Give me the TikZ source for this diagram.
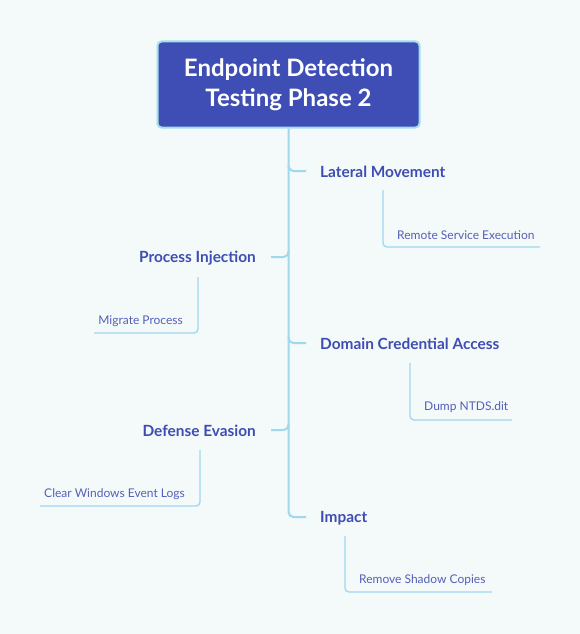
\documentclass[tikz,border=0pt]{standalone}
\usepackage{fontspec}
\setmainfont{Lato}
\usetikzlibrary{calc}
\definecolor{bg}{HTML}{F4F9F9}
\definecolor{rootfill}{HTML}{3E4EB5}
\definecolor{rootborder}{HTML}{A5DCF0}
\definecolor{linecol}{HTML}{A0D8EF}
\definecolor{branchtext}{HTML}{3E4DB3}
\definecolor{subtext}{HTML}{5460B9}
\tikzset{
  rootbox/.style={draw=rootborder, line width=2pt, fill=rootfill, rounded corners=4pt,
    minimum width=262pt, minimum height=86pt, text=white, align=center,
    font=\fontsize{24}{30}\selectfont\bfseries, inner sep=0pt},
  branchnode/.style={text=branchtext, font=\fontsize{15.4}{18}\selectfont\bfseries, inner sep=0pt},
  subnode/.style={text=subtext, font=\fontsize{12}{14}\selectfont, inner sep=0pt},
  trunkline/.style={draw=linecol, line width=2pt, rounded corners=5pt},
  subline/.style={draw=linecol, line width=1.4pt, rounded corners=4pt},
}
\begin{document}
\begin{tikzpicture}[x=1pt,y=-1pt]
\useasboundingbox[fill=bg] (0,0) rectangle (580,634);
\node[rootbox] (root) at (288.5,84.5) {Endpoint Detection\\Testing Phase 2};
% branches
\node[branchnode, anchor=west] (lat) at (320,172) {Lateral Movement};
\node[branchnode, anchor=east] (proc) at (256,258) {Process Injection};
\node[branchnode, anchor=west] (dom) at (320,344) {Domain Credential Access};
\node[branchnode, anchor=east] (def) at (256,431) {Defense Evasion};
\node[branchnode, anchor=west] (imp) at (320,518) {Impact};
% sub nodes
\node[subnode, anchor=west] (rse) at (397,235.5) {Remote Service Execution};
\node[subnode, anchor=east] (mig) at (183,321.5) {Migrate Process};
\node[subnode, anchor=west] (ntds) at (424,407.5) {Dump NTDS.dit};
\node[subnode, anchor=east] (clr) at (185,494.5) {Clear Windows Event Logs};
\node[subnode, anchor=west] (rsc) at (359,580.5) {Remove Shadow Copies};
% trunk
\draw[trunkline] (root.south) |- ($(imp.west)+(-14,-1)$);
\draw[trunkline] ($(root.south |- lat.west)+(0,-7)$) |- ($(lat.west)+(-14,-1)$);
\draw[trunkline] ($(root.south |- dom.west)+(0,-7)$) |- ($(dom.west)+(-14,-1)$);
\draw[trunkline] ($(root.south |- proc.east)+(0,-7)$) |- ($(proc.east)+(15,-1)$);
\draw[trunkline] ($(root.south |- def.east)+(0,-7)$) |- ($(def.east)+(15,-1)$);
% sub connectors
\coordinate (latS) at (383,190); \coordinate (latE) at (540,247);
\coordinate (procS) at (198,277); \coordinate (procE) at (94,333);
\coordinate (domS) at (410,363); \coordinate (domE) at (512,420);
\coordinate (defS) at (200,450); \coordinate (defE) at (40,506);
\coordinate (impS) at (345,536); \coordinate (impE) at (492,592);
\draw[subline] (latS) |- (latE);
\draw[subline] (procS) |- (procE);
\draw[subline] (domS) |- (domE);
\draw[subline] (defS) |- (defE);
\draw[subline] (impS) |- (impE);
\end{tikzpicture}
\end{document}
